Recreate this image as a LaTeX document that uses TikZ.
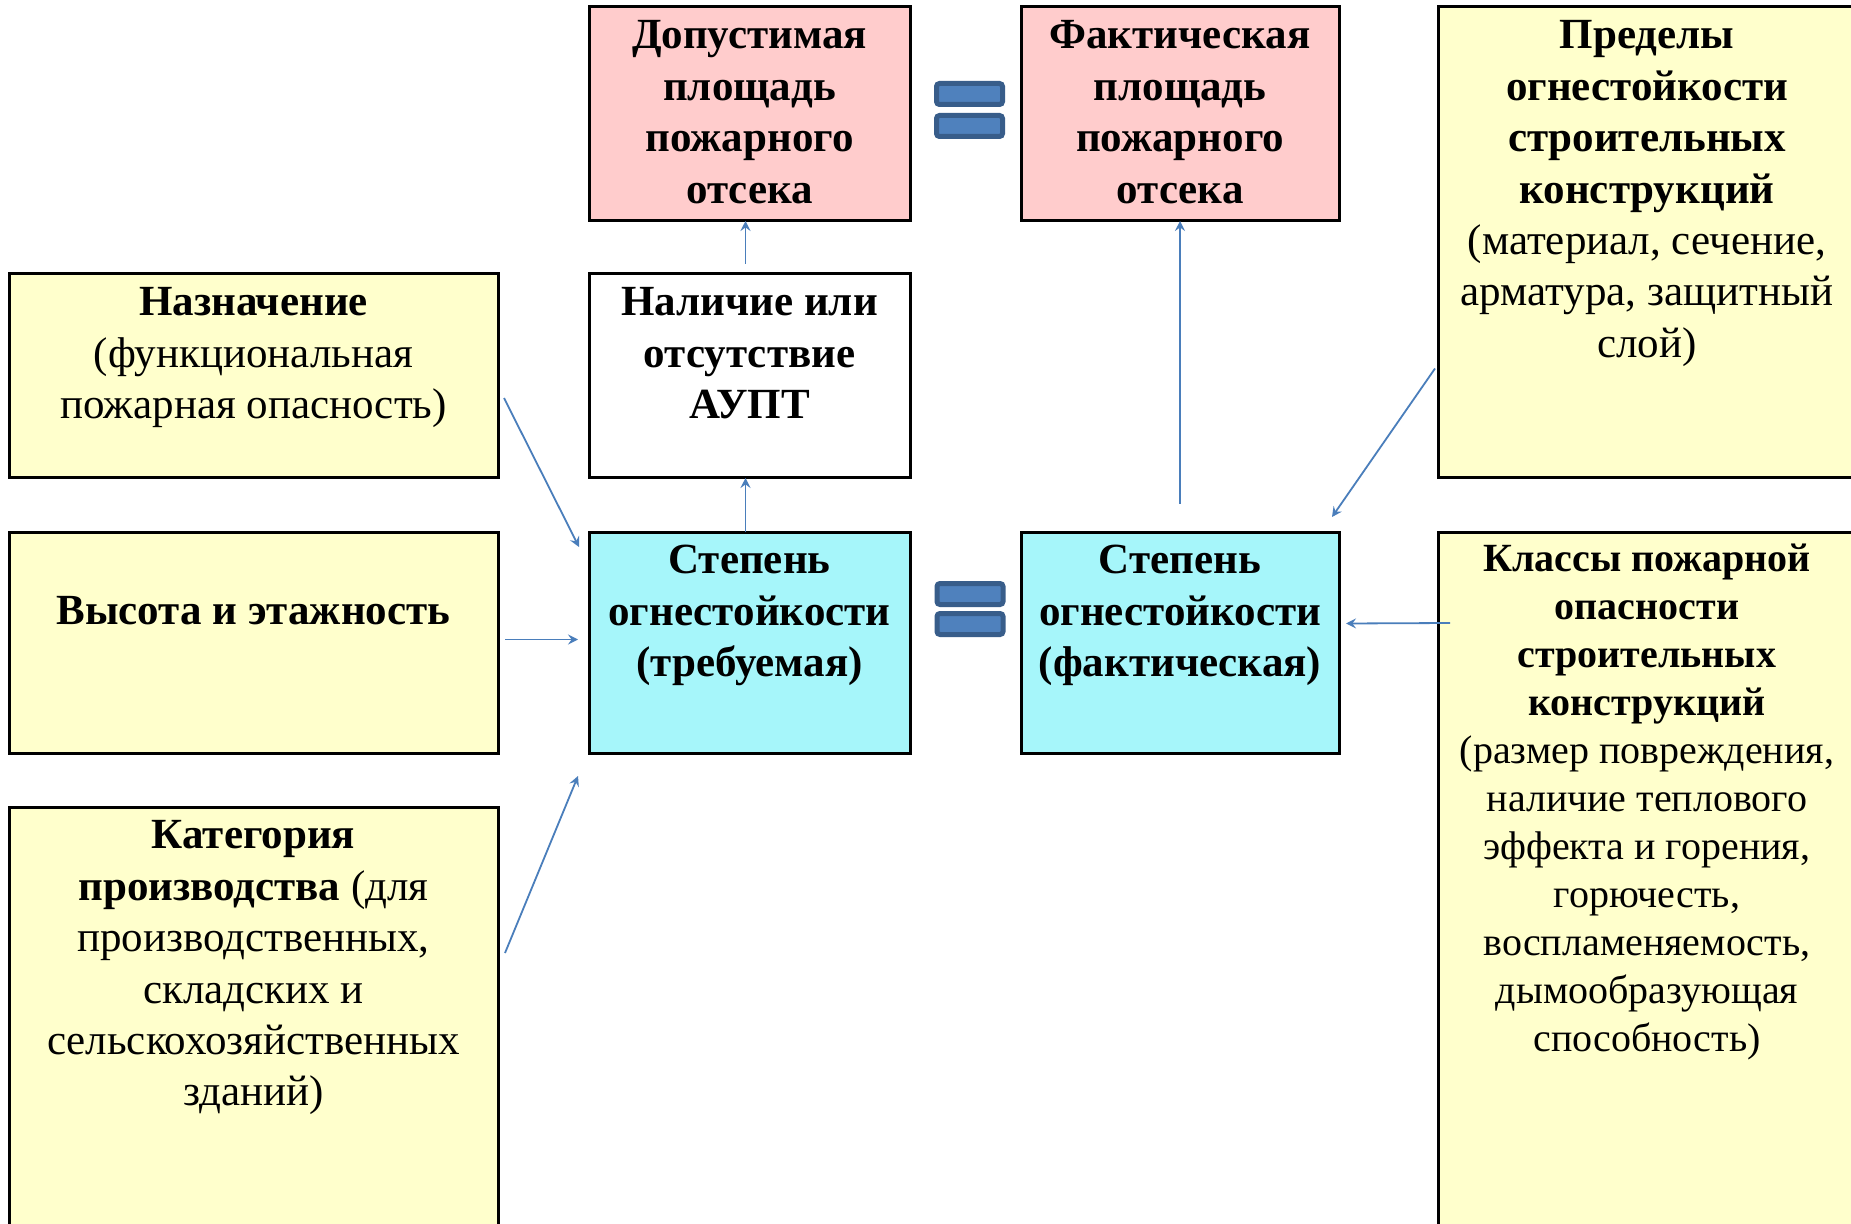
\documentclass[tikz,border=0pt]{standalone}
\usepackage{fontspec}
\setmainfont{Liberation Serif}
\usetikzlibrary{arrows.meta,calc}
\definecolor{pinkfill}{HTML}{FFCCCC}
\definecolor{cyanfill}{HTML}{A6F6FA}
\definecolor{yelfill}{HTML}{FFFFCC}
\definecolor{arrblue}{HTML}{4A7EBB}
\definecolor{eqfill}{HTML}{4F81BD}
\definecolor{eqline}{HTML}{385D8A}
\begin{document}
\begin{tikzpicture}[x=0.5pt,y=-0.5pt,inner sep=0pt,outer sep=0pt,
blk/.style={draw,rectangle,line width=1.5pt},
pinkblk/.style={blk,fill=pinkfill,minimum height=107pt},
cyanblk/.style={blk,fill=cyanfill,minimum height=110.5pt},
yelblk/.style={blk,fill=yelfill},
txt/.style={align=center,anchor=north,font={\fontsize{21.5}{25.7}\selectfont}},
smalltxt/.style={align=center,anchor=north,font={\fontsize{20}{24}\selectfont}},
eqbar/.style={draw=eqline,fill=eqfill,line width=2.5pt,rounded corners=1.5pt,minimum width=33pt,minimum height=10.5pt},
arr/.style={draw=arrblue,line width=0.9pt,-{Stealth[length=5pt,width=5pt,inset=1.8pt]}}]
\clip (0,0) rectangle (1851,1224);
\fill[white] (0,0) rectangle (1851,1224);

\draw (749.5,114) node[pinkblk,minimum width=160.5pt] (dop) {};
\draw (1180,114) node[pinkblk,minimum width=159pt] (facA) {};
\draw (1647,242.5) node[yelblk,minimum width=209pt,minimum height=235.5pt] (pred) {};
\draw (253.5,376) node[yelblk,minimum width=244.5pt,minimum height=102pt] (naz) {};
\draw (749.5,376) node[blk,fill=white,minimum width=160.5pt,minimum height=102pt] (nal) {};
\draw (253.5,642.5) node[yelblk,minimum width=244.5pt,minimum height=110.5pt] (vys) {};
\draw (749.5,642.5) node[cyanblk,minimum width=160.5pt] (stT) {};
\draw (1180,642.5) node[cyanblk,minimum width=159pt] (stF) {};
\draw (1647,916) node[yelblk,minimum width=209pt,minimum height=384pt] (klass) {};
\draw (253.5,1053.5) node[yelblk,minimum width=244.5pt,minimum height=246.5pt] (kat) {};

\draw (dop.north) ++(0,6) node[txt] (dopT) {\strut\textbf{Допустимая}\\\textbf{площадь}\\\textbf{пожарного}\\\textbf{отсека}};
\draw (facA.north) ++(0,6) node[txt] (facAT) {\strut\textbf{Фактическая}\\\textbf{площадь}\\\textbf{пожарного}\\\textbf{отсека}};
\draw (pred.north) ++(0,6) node[txt] (predT) {\strut\textbf{Пределы}\\\textbf{огнестойкости}\\\textbf{строительных}\\\textbf{конструкций}\\(материал, сечение,\\арматура, защитный\\слой)};
\draw (naz.north) ++(0,6) node[txt] (nazT) {\strut\textbf{Назначение}\\(функциональная\\пожарная опасность)};
\draw (nal.north) ++(0,6) node[txt] (nalT) {\strut\textbf{Наличие или}\\\textbf{отсутствие}\\\textbf{АУПТ}};
\draw (vys.north) ++(0,57) node[txt] (vysT) {\strut\textbf{Высота и этажность}};
\draw (stT.north) ++(0,6) node[txt] (stTT) {\strut\textbf{Степень}\\\textbf{огнестойкости}\\\textbf{(требуемая)}};
\draw (stF.north) ++(0,6) node[txt] (stFT) {\strut\textbf{Степень}\\\textbf{огнестойкости}\\\textbf{(фактическая)}};
\draw (klass.north) ++(0,6) node[smalltxt] (klassT) {\strut\textbf{Классы пожарной}\\\textbf{опасности}\\\textbf{строительных}\\\textbf{конструкций}\\(размер повреждения,\\наличие теплового\\эффекта и горения,\\горючесть,\\воспламеняемость,\\дымообразующая\\способность)};
\draw (kat.north) ++(0,6) node[txt] (katT) {\strut\textbf{Категория}\\\textbf{производства} (для\\производственных,\\складских и\\сельскохозяйственных\\зданий)};

\draw (969.5,94) node[eqbar] (eqTopA) {};
\draw (969.5,126) node[eqbar] (eqTopB) {};
\draw (970,594) node[eqbar] (eqMidA) {};
\draw (970,624) node[eqbar] (eqMidB) {};

\draw[arr] ($(naz.east)+(6,22)$) -- ($(stT.north west)+(-10,15)$);
\draw[arr] ($(vys.east)+(7,-3)$) -- ($(stT.west)+(-11,-3)$);
\draw[arr] ($(kat.north east)+(7,146)$) -- ($(stT.south west)+(-11,23)$);
\draw[arr] ($(stT.north)+(-4,0)$) -- ($(nal.south)+(-4,0)$);
\draw[arr] ($(nal.north)+(-4,-10)$) -- ($(dop.south)+(-4,0)$);
\draw[arr] ($(stF.north)+(0,-28)$) -- (facA.south);
\draw[arr] ($(pred.west)+(-3,126)$) -- ($(stF.north east)+(-7,-15)$);
\draw[arr] ($(klass.north west)+(12,91)$) -- ($(stF.east)+(7,-19)$);
\end{tikzpicture}
\end{document}
